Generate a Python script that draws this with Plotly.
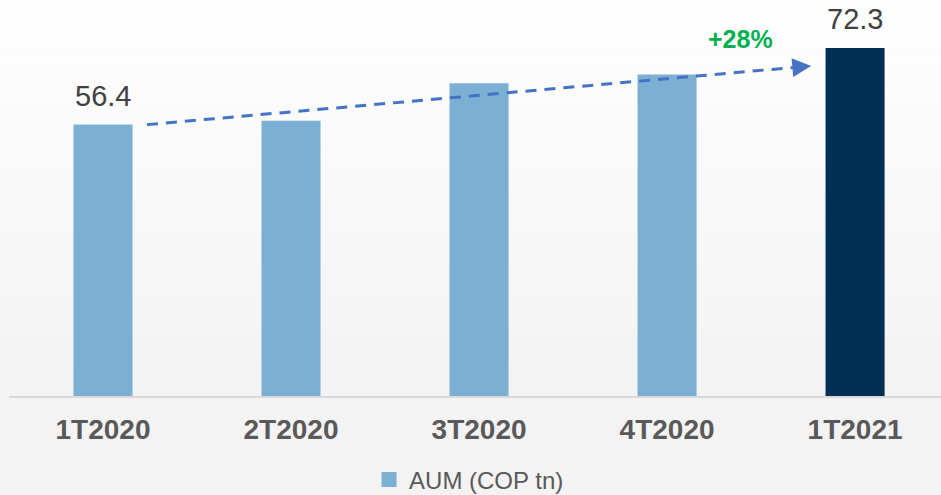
import plotly.graph_objects as go

# Quarterly assets under management (COP trillions)
quarters = ["1T2020", "2T2020", "3T2020", "4T2020", "1T2021"]
aum = [56.4, 57.2, 65.0, 66.8, 72.3]
series_name = "AUM (COP tn)"

light_blue = "#7bafd4"
navy = "#002f56"
arrow_blue = "#4472c4"
green = "#00b050"
label_grey = "#404040"
tick_grey = "#595959"

x_pos = list(range(len(quarters)))
bar_colors = [light_blue] * (len(quarters) - 1) + [navy]

growth = aum[-1] / aum[0] - 1
growth_text = f"+{growth * 100:.0f}%"

fig = go.Figure()

# subtle vertical background gradient (white at top to light grey at the bottom)
n_bands = 24
top_rgb = (254, 254, 254)
bot_rgb = (243, 243, 244)
for i in range(n_bands):
    t = i / (n_bands - 1)
    c = tuple(round(top_rgb[k] + (bot_rgb[k] - top_rgb[k]) * t) for k in range(3))
    fig.add_shape(type="rect", xref="paper", yref="paper",
                  x0=-0.02, x1=1.02,
                  y0=1 - (i + 1) / n_bands, y1=1 - i / n_bands,
                  fillcolor=f"rgb{c}", line_width=0, layer="below")
fig.add_shape(type="rect", xref="paper", yref="paper", x0=-0.02, x1=1.02,
              y0=-0.3, y1=0, fillcolor="rgb(243,243,244)", line_width=0, layer="below")

fig.add_trace(go.Bar(
    x=x_pos, y=aum, marker_color=bar_colors, marker_line_width=0,
    width=0.314, showlegend=False, hoverinfo="skip",
))

# legend swatch
fig.add_trace(go.Scatter(
    x=[None], y=[None], mode="markers", name=series_name,
    marker=dict(symbol="square", size=15, color=light_blue),
))

# dashed growth trend from the first bar towards the last one
x_start, x_tip = 0.234, 3.766
y_start, y_tip = aum[0], 68.6
slope = (y_tip - y_start) / (x_tip - x_start)
x_end = 3.70
fig.add_trace(go.Scatter(
    x=[x_start, x_end], y=[y_start, y_start + slope * (x_end - x_start)],
    mode="lines", line=dict(color=arrow_blue, width=3, dash="11px,8px"),
    showlegend=False, hoverinfo="skip",
))
x_base = 3.70
fig.add_annotation(x=x_tip, y=y_tip, ax=x_base, ay=y_start + slope * (x_base - x_start),
                   xref="x", yref="y", axref="x", ayref="y", text="",
                   showarrow=True, arrowhead=2, arrowsize=1.25, arrowwidth=3,
                   arrowcolor=arrow_blue)

fig.add_annotation(x=3.39, y=74.2, xref="x", yref="y", text=f"<b>{growth_text}</b>",
                   showarrow=False, font=dict(family="Liberation Sans, Arial", size=25, color=green))

# value labels on the first and last bars
for i in (0, len(aum) - 1):
    fig.add_annotation(x=x_pos[i], y=aum[i], xref="x", yref="y", text=f"{aum[i]:.1f}",
                       showarrow=False, yanchor="bottom", yshift=11,
                       font=dict(family="Liberation Sans, Arial", size=29, color=label_grey))

fig.update_layout(
    width=941, height=495,
    margin=dict(l=9, r=0, t=0, b=99, autoexpand=False),
    paper_bgcolor="#f6f6f7", plot_bgcolor="rgba(0,0,0,0)",
    font=dict(family="Liberation Sans, Arial", color=tick_grey),
    bargap=0.686,
    legend=dict(orientation="h", x=0.4936, xanchor="center", y=-0.212, yanchor="middle",
                font=dict(size=24, color=tick_grey), bgcolor="rgba(0,0,0,0)",
                itemsizing="trace"),
    xaxis=dict(range=[-0.5, 4.457], tickvals=x_pos, ticktext=[f"<b>{q}</b>" for q in quarters],
               tickfont=dict(size=28, color=tick_grey), showgrid=False, zeroline=False,
               showline=True, linecolor="#d9d9d9", linewidth=2, ticks="",
               ticklabelstandoff=7, fixedrange=True),
    yaxis=dict(range=[0, 82.3], visible=False, showgrid=False, zeroline=False, fixedrange=True),
)

fig.write_html("out.html")
